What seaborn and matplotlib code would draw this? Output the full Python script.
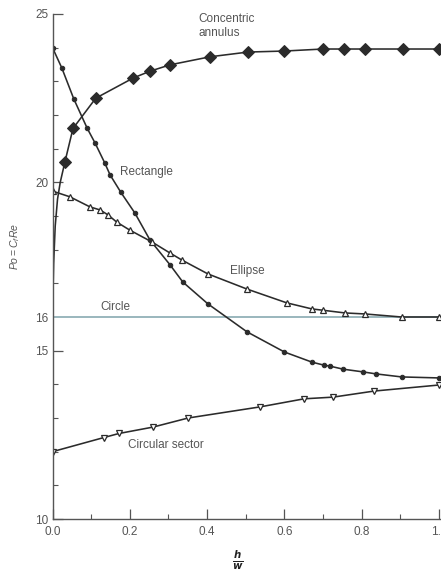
import matplotlib
matplotlib.use("Agg")
import matplotlib.pyplot as plt
import seaborn as sns
import pandas as pd
from matplotlib.ticker import MultipleLocator

# Poiseuille number Po = Cf*Re versus aspect ratio h/w for several duct shapes
annulus_x = [0.0, 0.003, 0.007, 0.013, 0.02, 0.032, 0.053, 0.112, 0.209, 0.252,
             0.304, 0.408, 0.506, 0.60, 0.70, 0.754, 0.809, 0.906, 1.0]
annulus_y = [16.0, 17.6, 18.7, 19.5, 20.0, 20.6, 21.6, 22.5, 23.1, 23.3,
             23.49, 23.73, 23.87, 23.9, 23.96, 23.96, 23.96, 23.96, 23.96]
annulus_first_marker = 5

rect_x = [0.0, 0.024, 0.055, 0.09, 0.11, 0.135, 0.149, 0.177, 0.213, 0.252, 0.304,
          0.337, 0.402, 0.503, 0.60, 0.671, 0.702, 0.718, 0.752, 0.803, 0.837, 0.903, 1.0]
rect_y = [24.0, 23.4, 22.48, 21.6, 21.17, 20.58, 20.22, 19.7, 19.09, 18.29, 17.55,
          17.04, 16.39, 15.56, 14.96, 14.66, 14.57, 14.54, 14.45, 14.37, 14.31, 14.22, 14.19]

ellipse_x = [0.0, 0.045, 0.097, 0.123, 0.144, 0.166, 0.2, 0.257, 0.304, 0.335, 0.402,
             0.503, 0.606, 0.671, 0.70, 0.757, 0.809, 0.903, 1.0]
ellipse_y = [19.74, 19.57, 19.27, 19.18, 19.03, 18.82, 18.58, 18.23, 17.9, 17.69, 17.28,
             16.83, 16.42, 16.24, 16.2, 16.12, 16.09, 16.0, 16.0]

sector_x = [0.0, 0.133, 0.172, 0.26, 0.351, 0.537, 0.651, 0.726, 0.832, 1.0]
sector_y = [12.0, 12.42, 12.54, 12.73, 13.0, 13.33, 13.57, 13.62, 13.8, 13.98]

circle_x = [0.0, 1.0]
circle_y = [16.0, 16.0]

y_ticks = [10, 15, 16, 20, 25]
x_ticks = [0.0, 0.2, 0.4, 0.6, 0.8, 1.0]

sns.set_style("ticks")
plt.rcParams["font.family"] = ["Liberation Sans", "DejaVu Sans"]
plt.rcParams["mathtext.fontset"] = "custom"
plt.rcParams["mathtext.it"] = "Liberation Sans:italic"
plt.rcParams["mathtext.rm"] = "Liberation Sans"
plt.rcParams["mathtext.bf"] = "Liberation Sans:bold"

W, H = 441, 571
fig = plt.figure(figsize=(W / 100, H / 100), dpi=100)
ax = fig.add_axes([52.5 / W, 52 / H, 388.5 / W, 505 / H])

ink = "#2b2b2b"
txt = "#555555"

sns.lineplot(x=circle_x, y=circle_y, ax=ax, color="#7fa3ab", lw=1.1)

sns.lineplot(x=annulus_x, y=annulus_y, ax=ax, sort=False, color=ink, lw=1.15,
             marker="D", markersize=6.5, markerfacecolor=ink, markeredgecolor=ink,
             markevery=list(range(annulus_first_marker, len(annulus_x))))
sns.lineplot(x=rect_x, y=rect_y, ax=ax, sort=False, color=ink, lw=1.15,
             marker="o", markersize=3.2, markerfacecolor=ink, markeredgecolor=ink)
sns.lineplot(x=ellipse_x, y=ellipse_y, ax=ax, sort=False, color=ink, lw=1.15,
             marker="^", markersize=5, markerfacecolor="white", markeredgecolor=ink,
             markeredgewidth=0.9)
sns.lineplot(x=sector_x, y=sector_y, ax=ax, sort=False, color=ink, lw=1.15,
             marker="v", markersize=5, markerfacecolor="white", markeredgecolor=ink,
             markeredgewidth=0.9)

ax.set_xlim(0, 1.005)
ax.set_ylim(10, 25)
ax.set_xticks(x_ticks)
ax.set_xticklabels([f"{v:.1f}" for v in x_ticks])
ax.set_yticks(y_ticks)
ax.set_yticklabels([str(v) for v in y_ticks])
ax.xaxis.set_minor_locator(MultipleLocator(0.1))
ax.yaxis.set_minor_locator(MultipleLocator(1))
ax.tick_params(which="major", direction="in", length=7, width=0.9, color="#555555",
               labelsize=8.5, labelcolor=txt, pad=3)
ax.tick_params(axis="x", which="major", pad=5)
ax.tick_params(which="minor", direction="in", length=3.5, width=0.8, color="#555555")
ax.yaxis.get_major_ticks()[2].tick1line.set_visible(False)
ax.set_xlabel("")
ax.set_ylabel("")
sns.despine(ax=ax)
for s in ("left", "bottom"):
    ax.spines[s].set_color("#555555")
    ax.spines[s].set_linewidth(1.0)

lab = dict(fontsize=8.5, color=txt, va="center", ha="left")
ax.text(0.377, 24.85, "Concentric", **lab)
ax.text(0.377, 24.44, "annulus", **lab)
ax.text(0.175, 20.31, "Rectangle", **lab)
ax.text(0.459, 17.37, "Ellipse", **lab)
ax.text(0.123, 16.3, "Circle", **lab)
ax.text(0.195, 12.2, "Circular sector", **lab)

fig.text(15 / W, 1 - 247 / H, r"$Po = C_f Re$", rotation=90, fontsize=7.5,
         color=txt, ha="center", va="center")
fig.text(238 / W, 1 - 560 / H, r"$\frac{\boldsymbol{h}}{\boldsymbol{w}}$",
         fontsize=10.5, color="#222222", ha="center", va="center")

fig.savefig("out.png", dpi=100)
